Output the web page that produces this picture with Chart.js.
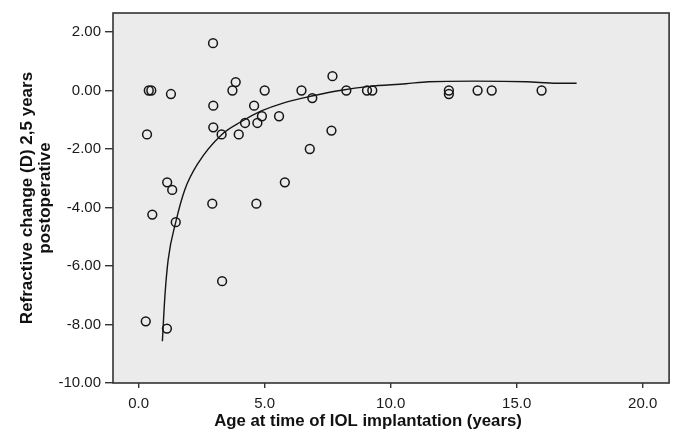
<!DOCTYPE html>
<html>
<head>
<meta charset="utf-8">
<script src="https://cdn.jsdelivr.net/npm/chart.js@4.4.1/dist/chart.umd.min.js"></script>
<style>
  html, body { margin: 0; padding: 0; background: #fff; }
  #wrap { width: 675px; height: 435px; }
</style>
</head>
<body>
<div id="wrap"><canvas id="grafica"></canvas></div>
<script>
// datos
var edad = [2.95, 0.40, 0.50, 1.28, 0.33, 2.96, 2.96, 3.85, 3.72, 5.00,
            3.29, 3.97, 4.22, 4.58, 4.71, 4.89, 5.57, 6.46, 6.89, 7.69,
            7.65, 6.79, 5.80, 1.13, 1.33, 2.92, 4.67, 0.54, 1.47, 3.31,
            0.28, 1.12, 8.24, 9.06, 9.27, 12.31, 12.31, 13.45, 14.01, 15.99]
var cambio = [1.62, 0.00, 0.00, -0.12, -1.50, -0.52, -1.26, 0.29, 0.00, 0.00,
              -1.50, -1.50, -1.11, -0.52, -1.11, -0.88, -0.88, 0.00, -0.26, 0.49,
              -1.37, -2.00, -3.14, -3.14, -3.40, -3.87, -3.87, -4.24, -4.50, -6.52,
              -7.89, -8.14, 0.00, 0.00, 0.00, 0.00, -0.12, 0.00, 0.00, 0.00]

// curva ajustada
var curvaEdad = [0.94, 1.04, 1.17, 1.47, 1.83, 2.36, 3.29, 4.08, 4.87, 5.73,
                 6.92, 7.98, 9.16, 10.6, 11.5, 13.3, 15.4, 16.6, 17.38]
var curvaCambio = [-8.57, -7.03, -5.78, -4.50, -3.39, -2.48, -1.51, -1.06, -0.70, -0.43,
                   -0.18, 0.00, 0.14, 0.23, 0.30, 0.32, 0.30, 0.25, 0.25]

var tituloX = 'Age at time of IOL implantation (years)'
var tituloY = ['Refractive change (D) 2,5 years', 'postoperative']

var puntos = []
for (var i = 0; i < edad.length; i++) {
    puntos.push({x: edad[i], y: cambio[i]})
}
var curva = []
for (var c = 0; c < curvaEdad.length; c++) {
    curva.push({x: curvaEdad[c], y: curvaCambio[c]})
}

// fondo gris, marco y titulo del eje x
const marco = {
    id: 'marco',
    beforeDatasetsDraw(chart) {
        const a = chart.chartArea, ctx = chart.ctx
        ctx.save()
        ctx.fillStyle = '#ebebeb'
        ctx.fillRect(a.left, a.top, a.right - a.left, a.bottom - a.top)
        ctx.restore()
    },
    afterDraw(chart) {
        const a = chart.chartArea, ctx = chart.ctx
        ctx.save()
        ctx.strokeStyle = '#333'
        ctx.lineWidth = 1.6
        ctx.strokeRect(a.left, a.top, a.right - a.left, a.bottom - a.top)
        ctx.fillStyle = '#111'
        ctx.font = 'bold 16.8px "Liberation Sans", Arial, sans-serif'
        ctx.textAlign = 'center'
        ctx.textBaseline = 'middle'
        ctx.fillText(tituloX, 368, 421)
        ctx.restore()
    }
}

const ctx = document.getElementById('grafica')
const myChart = new Chart(ctx, {
    type: 'scatter',
    data: {
        datasets: [{
            label: 'observed',
            data: puntos,
            pointStyle: 'circle',
            pointRadius: 4.4,
            pointHoverRadius: 4.4,
            pointBorderWidth: 1.5,
            borderColor: '#151515',
            backgroundColor: 'rgba(0,0,0,0)',
            order: 1
        }, {
            label: 'fit',
            data: curva,
            showLine: true,
            borderColor: '#151515',
            borderWidth: 1.4,
            pointRadius: 0,
            cubicInterpolationMode: 'monotone',
            order: 2
        }]
    },
    options: {
        responsive: true,
        maintainAspectRatio: false,
        animation: false,
        layout: { padding: { top: 13, right: 5, left: 0, bottom: 0 } },
        plugins: {
            legend: { display: false },
            tooltip: { enabled: false }
        },
        scales: {
            x: {
                type: 'linear',
                min: -1.02,
                max: 21.05,
                afterFit: function(s) { s.height = 52 },
                border: { display: false },
                grid: { drawOnChartArea: false, drawTicks: true, tickLength: 5, color: '#333', lineWidth: 1.4 },
                ticks: {
                    stepSize: 5,
                    includeBounds: false,
                    padding: 7,
                    color: '#1a1a1a',
                    font: { family: '"Liberation Sans", Arial, sans-serif', size: 15 },
                    callback: function(v) { return v.toFixed(1) }
                }
            },
            y: {
                type: 'linear',
                min: -10,
                max: 2.65,
                afterFit: function(s) { s.width = 113 },
                border: { display: false },
                grid: { drawOnChartArea: false, drawTicks: true, tickLength: 8, color: '#333', lineWidth: 1.4 },
                title: {
                    display: true,
                    text: tituloY,
                    color: '#111',
                    padding: { top: 19, bottom: 0 },
                    font: { family: '"Liberation Sans", Arial, sans-serif', size: 17, weight: 'bold', lineHeight: 1.02 }
                },
                ticks: {
                    stepSize: 2,
                    includeBounds: false,
                    padding: 4,
                    color: '#1a1a1a',
                    font: { family: '"Liberation Sans", Arial, sans-serif', size: 15 },
                    callback: function(v) { return v.toFixed(2) }
                }
            }
        }
    },
    plugins: [marco]
});
</script>
</body>
</html>
